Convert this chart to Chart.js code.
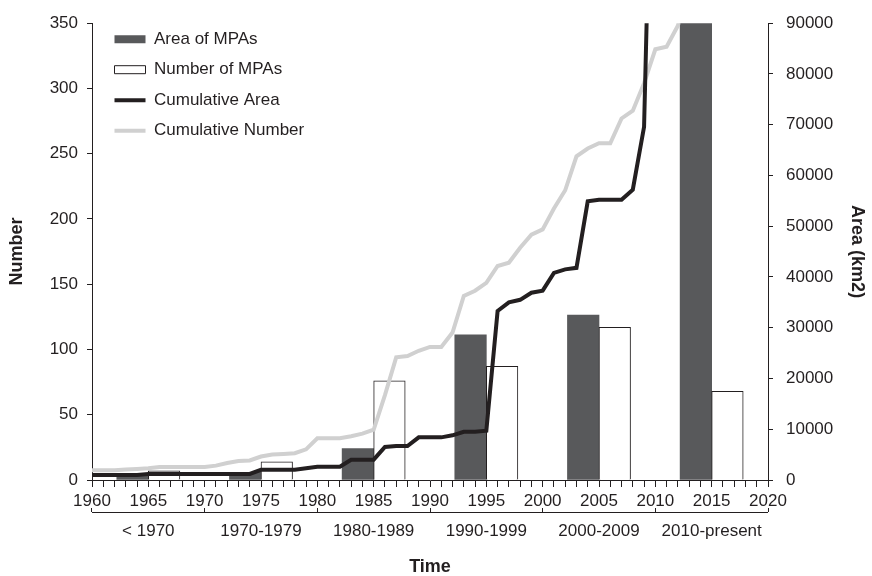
<!DOCTYPE html>
<html lang="en">
<head>
<meta charset="UTF-8">
<title>MPAs over time</title>
<script src="https://cdn.jsdelivr.net/npm/chart.js"></script>
<style>
  body { margin: 0; background: #fff; }
  canvas { display: block; }
</style>
</head>
<body>
<canvas id="mpaChart" width="872" height="576"></canvas>
<script>
// decade groups on the lower axis, and the middle year of each one
const categories = ['< 1970', '1970-1979', '1980-1989', '1990-1999', '2000-2009', '2010-present'];
const decadeMid = [1965, 1975, 1985, 1995, 2005, 2015];

// per decade: area (km2, right axis) and number of MPAs (left axis)
const areaMPAs = [800, 1500, 6200, 28600, 32500, 98000];
const numberMPAs = [7, 14, 76, 87, 117, 68];

// cumulative number, yearly (left axis)
const yearsNumber = [1960, 1961, 1962, 1963, 1964, 1965, 1966, 1967, 1968, 1969,
                     1970, 1971, 1972, 1973, 1974, 1975, 1976, 1977, 1978, 1979,
                     1980, 1981, 1982, 1983, 1984, 1985, 1986, 1987, 1988, 1989,
                     1990, 1991, 1992, 1993, 1994, 1995, 1996, 1997, 1998, 1999,
                     2000, 2001, 2002, 2003, 2004, 2005, 2006, 2007, 2008, 2009,
                     2010, 2011, 2012, 2013];
const cumNumber = [7.5, 7.5, 7.5, 8, 8.5, 9, 10, 10, 10, 10,
                   10, 11, 13, 14.5, 15, 18, 19.5, 20, 20.5, 23.5,
                   32, 32, 32, 33.5, 35.5, 38.5, 65, 94, 95, 99,
                   102, 102, 113, 141, 145, 151, 164, 166.5, 178, 188,
                   192, 208, 222, 248, 254, 258, 258, 277, 283, 304,
                   330, 332, 348, 380];

// cumulative area, yearly (km2, right axis)
const yearsArea = [1960, 1961, 1962, 1963, 1964, 1965, 1966, 1967, 1968, 1969,
                   1970, 1971, 1972, 1973, 1974, 1975, 1976, 1977, 1978, 1979,
                   1980, 1981, 1982, 1983, 1984, 1985, 1986, 1987, 1988, 1989,
                   1990, 1991, 1992, 1993, 1994, 1995, 1996, 1997, 1998, 1999,
                   2000, 2001, 2002, 2003, 2004, 2005, 2006, 2007, 2008, 2009,
                   2010];
const cumArea = [1000, 1000, 1000, 1000, 1000, 1200, 1200, 1200, 1200, 1200,
                 1200, 1200, 1200, 1200, 1200, 2000, 2000, 2000, 2000, 2300,
                 2600, 2600, 2600, 4000, 4000, 4000, 6500, 6700, 6700, 8400,
                 8400, 8400, 8800, 9500, 9500, 9700, 33300, 35000, 35500, 36900,
                 37300, 40800, 41500, 41800, 54900, 55200, 55200, 55200, 57200, 69600,
                 160000];

// labelled years on the year axis
const yearTicks = [1960, 1965, 1970, 1975, 1980, 1985, 1990, 1995, 2000, 2005, 2010, 2015, 2020];

const ink = '#231f20';
const BAR_HALF = 1.4; // bars sit either side of the decade middle

Chart.defaults.font.family = "'Liberation Sans', Arial, sans-serif";
Chart.defaults.font.size = 17;
Chart.defaults.color = ink;

// line under the decade ticks, so they read as a bracket
const bracket = {
  id: 'bracket',
  afterDraw(chart) {
    const s = chart.scales.xCat;
    const y = Math.round(s.top + s.options.grid.tickLength) + 0.5;
    const c = chart.ctx;
    c.save();
    c.strokeStyle = ink;
    c.lineWidth = 1;
    c.beginPath();
    c.moveTo(s.left, y);
    c.lineTo(s.right, y);
    c.stroke();
    c.restore();
  }
};

// nudge the legend inside the plot area
const legendShift = {
  id: 'legendShift',
  afterLayout(chart) {
    chart.legend.left = chart.chartArea.left + 9;
    chart.legend.top = chart.chartArea.top - 6;
  }
};

const ctx = document.getElementById('mpaChart').getContext('2d');
const mpaChart = new Chart(ctx, {
  type: 'bar',
  data: {
    datasets: [
      {
        type: 'bar',
        label: 'Area of MPAs',
        data: decadeMid.map((m, i) => ({ x: m - BAR_HALF, y: areaMPAs[i] })),
        xAxisID: 'xBar',
        yAxisID: 'y1',
        backgroundColor: '#58595b',
        borderWidth: 0,
        grouped: false,
        barPercentage: 1,
        categoryPercentage: 1,
        clip: 0,
        order: 4
      },
      {
        type: 'bar',
        label: 'Number of MPAs',
        data: decadeMid.map((m, i) => ({ x: m + BAR_HALF, y: numberMPAs[i] })),
        xAxisID: 'xBar',
        yAxisID: 'y',
        backgroundColor: '#ffffff',
        borderColor: ink,
        borderWidth: 1,
        grouped: false,
        barPercentage: 1,
        categoryPercentage: 1,
        clip: 0,
        order: 3
      },
      {
        type: 'line',
        label: 'Cumulative Area',
        data: yearsArea.map((yr, i) => ({ x: yr, y: cumArea[i] })),
        xAxisID: 'x',
        yAxisID: 'y1',
        borderColor: ink,
        backgroundColor: ink,
        borderWidth: 4,
        pointRadius: 0,
        tension: 0,
        clip: 0,
        order: 1
      },
      {
        type: 'line',
        label: 'Cumulative Number',
        data: yearsNumber.map((yr, i) => ({ x: yr, y: cumNumber[i] })),
        xAxisID: 'x',
        yAxisID: 'y',
        borderColor: '#d0d0d0',
        backgroundColor: '#d0d0d0',
        borderWidth: 4,
        pointRadius: 0,
        tension: 0,
        clip: 0,
        order: 2
      }
    ]
  },
  options: {
    responsive: false,
    animation: false,
    layout: { padding: { top: 21, left: 0, right: 0, bottom: 0 } },
    plugins: {
      tooltip: { enabled: false },
      legend: {
        position: 'chartArea',
        align: 'start',
        labels: {
          usePointStyle: true,
          pointStyleWidth: 31,
          boxHeight: 8,
          padding: 13.5,
          color: ink,
          font: { size: 17 },
          sort: (a, b) => a.datasetIndex - b.datasetIndex,
          generateLabels: (chart) =>
            Chart.defaults.plugins.legend.labels.generateLabels(chart).map((item) => {
              const ds = chart.data.datasets[item.datasetIndex];
              item.pointStyle = ds.type === 'line' ? 'line' : 'rect';
              return item;
            })
        }
      }
    },
    scales: {
      x: {
        type: 'linear',
        position: 'bottom',
        weight: 0,
        offset: false,
        min: 1960,
        max: 2020,
        ticks: {
          stepSize: 1,
          autoSkip: false,
          maxRotation: 0,
          minRotation: 0,
          padding: 4,
          callback: (v) => yearTicks.includes(Math.round(v)) ? String(Math.round(v)) : ''
        },
        grid: { offset: false, drawOnChartArea: false, tickLength: 7, color: ink },
        border: { color: ink, width: 1 },
        afterFit: (s) => { s.height = 28; }
      },
      xBar: {
        type: 'linear',
        display: false,
        offset: false,
        grid: { offset: false },
        min: 1960,
        max: 2020
      },
      xCat: {
        type: 'category',
        position: 'bottom',
        weight: 1,
        labels: categories,
        offset: true,
        ticks: { padding: 9, autoSkip: false, maxRotation: 0, minRotation: 0 },
        grid: { offset: true, drawOnChartArea: false, tickLength: 4, color: ink },
        border: { display: false },
        title: {
          display: true,
          text: 'Time',
          font: { size: 18, weight: 'bold', lineHeight: 1 },
          padding: { top: 17, bottom: 0 }
        },
        afterFit: (s) => { s.height = 68; }
      },
      y: {
        type: 'linear',
        position: 'left',
        min: 0,
        max: 350,
        ticks: { stepSize: 50, padding: 9 },
        grid: { drawOnChartArea: false, tickLength: 5, color: ink },
        border: { color: ink, width: 1 },
        title: {
          display: true,
          text: 'Number',
          font: { size: 18, weight: 'bold' },
          padding: { top: 6, bottom: 0 }
        },
        afterFit: (s) => { s.width = 92; }
      },
      y1: {
        type: 'linear',
        position: 'right',
        min: 0,
        max: 90000,
        ticks: { stepSize: 10000, padding: 13, callback: (v) => String(v) },
        grid: { drawOnChartArea: false, tickLength: 5, color: ink },
        border: { color: ink, width: 1 },
        title: {
          display: true,
          text: 'Area (km2)',
          font: { size: 18, weight: 'bold' },
          padding: { top: 4, bottom: 0 }
        },
        afterFit: (s) => { s.width = 104; }
      }
    }
  },
  plugins: [bracket, legendShift]
});
</script>
</body>
</html>
